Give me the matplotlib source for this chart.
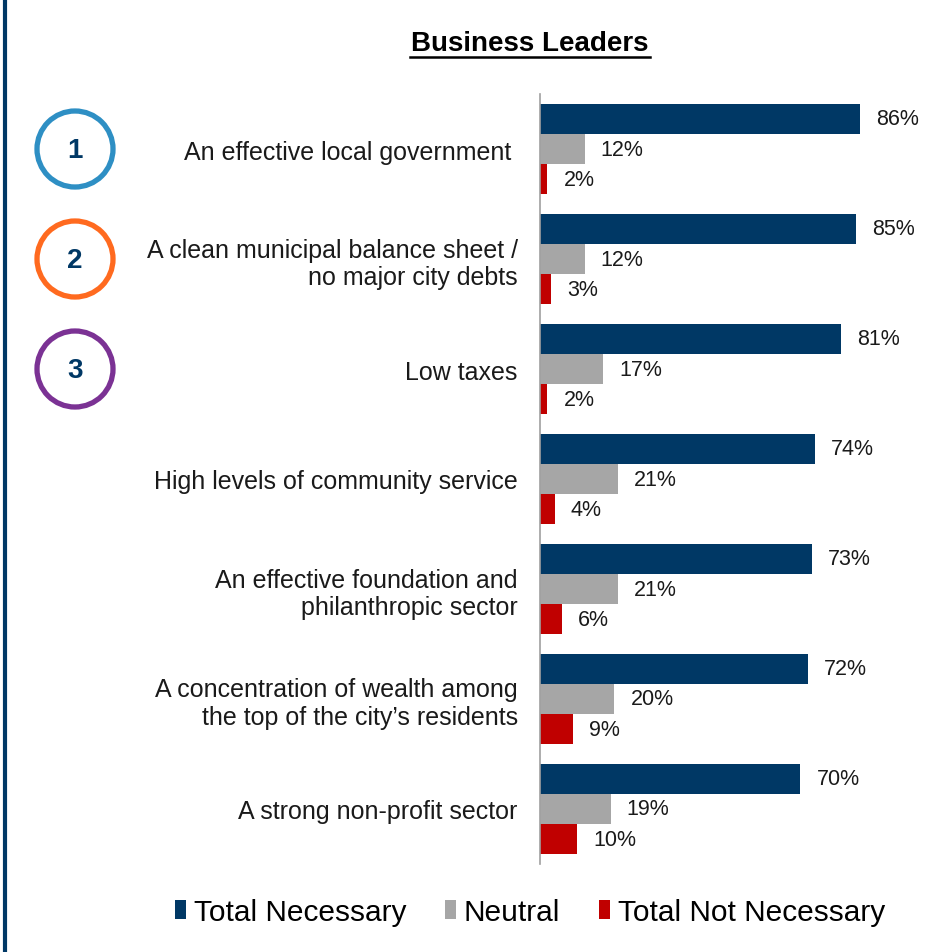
import matplotlib.pyplot as plt
from matplotlib.patches import Patch, Circle
import numpy as np

# survey results, business leaders
categories = [
    "An effective local government ",
    "A clean municipal balance sheet /\nno major city debts",
    "Low taxes",
    "High levels of community service",
    "An effective foundation and\nphilanthropic sector",
    "A concentration of wealth among\nthe top of the city\u2019s residents",
    "A strong non-profit sector",
]
total_necessary = [86, 85, 81, 74, 73, 72, 70]
neutral = [12, 12, 17, 21, 21, 20, 19]
not_necessary = [2, 3, 2, 4, 6, 9, 10]
series_names = ["Total Necessary", "Neutral", "Total Not Necessary"]
ranks = ["1", "2", "3"]

NAVY = "#003865"
GRAY = "#A6A6A6"
RED = "#C00000"
ring_colors = ["#2E8FC4", "#FF6A1F", "#7B3294"]

plt.rcParams["font.family"] = ["Liberation Sans", "DejaVu Sans"]

W, H = 926, 953
fig = plt.figure(figsize=(W / 100, H / 100), dpi=100)

# main bar axes: left spine sits at x=540px, groups span y=95..865px
ax = fig.add_axes([540 / W, 1 - 865 / H, 372 / W, 770 / H])
y = np.arange(len(categories))
h = 0.273
series = [total_necessary, neutral, not_necessary]
colors = [NAVY, GRAY, RED]
offsets = [-h, 0, h]
for vals, col, off in zip(series, colors, offsets):
    bars = ax.barh(y + off, vals, height=h, color=col)
    for b, v in zip(bars, vals):
        ax.text(v + 4.3, b.get_y() + b.get_height() / 2, f"{v}%",
                va="center", ha="left", fontsize=15.5, color="#1a1a1a")

ax.set_xlim(0, 100)
ax.set_ylim(len(categories) - 0.5, -0.5)
ax.set_yticks(y)
ax.set_yticklabels(categories, fontsize=18, color="#1a1a1a", linespacing=1.2)
ax.tick_params(axis="y", length=0, pad=16)
ax.set_xticks([])
for s in ["top", "right", "bottom"]:
    ax.spines[s].set_visible(False)
ax.spines["left"].set_color("#A0A0A0")
ax.spines["left"].set_linewidth(1.2)

# overlay in pixel coordinates for decorations
ov = fig.add_axes([0, 0, 1, 1], zorder=-1)
ov.set_xlim(0, W)
ov.set_ylim(H, 0)
ov.axis("off")
ov.plot([5, 5], [0, H], color=NAVY, lw=3, solid_capstyle="butt")
for i, (r, c) in enumerate(zip(ranks, ring_colors)):
    cy = 150 + i * 110
    ov.add_patch(Circle((75, cy), 38, fill=False, ec=c, lw=3.8))
    ov.text(75, cy + 1, r, ha="center", va="center", fontsize=20,
            fontweight="bold", color=NAVY)

# title with underline
ov.text(530, 44, "Business Leaders", ha="center", va="center",
        fontsize=20, fontweight="bold", color="black")
ov.plot([410, 650], [58, 58], color="black", lw=1.8)

handles = [Patch(facecolor=c, edgecolor="none") for c in colors]
fig.legend(handles, series_names, loc="center", bbox_to_anchor=(530 / W, 1 - 913 / H),
           ncol=3, frameon=False, handlelength=0.38, handleheight=0.6,
           handletextpad=0.25, columnspacing=1.3,
           prop={"family": ["Liberation Sans", "DejaVu Sans"], "size": 21.5})

fig.savefig("out.png", dpi=100)
